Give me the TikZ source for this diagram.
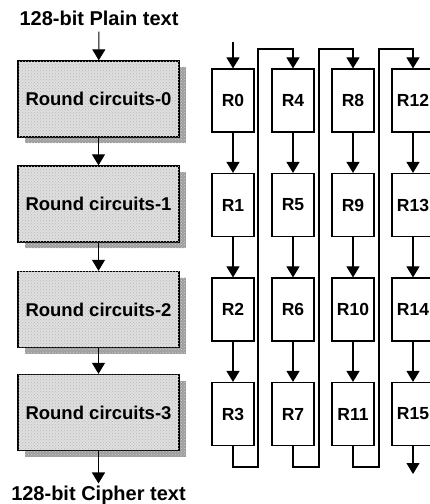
\documentclass[tikz,border=0pt]{standalone}
\usepackage{fontspec}
\setmainfont{Liberation Sans}
\usetikzlibrary{arrows.meta,patterns}
\tikzset{
  roundbox/.style={draw,line width=1.3pt,fill=gray!25,postaction={pattern=crosshatch dots,pattern color=gray!55},
    minimum width=161pt,minimum height=76pt,inner sep=0pt,
    font=\fontsize{18.5}{21}\selectfont\bfseries},
  boxshadow/.style={fill=gray!75,postaction={pattern=crosshatch dots,pattern color=white!60!gray},
    minimum width=161pt,minimum height=76pt,inner sep=0pt},
  regbox/.style={draw,line width=1.2pt,fill=white,minimum width=42pt,minimum height=63pt,inner sep=0pt,
    font=\fontsize{17.5}{20}\selectfont\bfseries},
  caption/.style={font=\fontsize{20}{22}\selectfont\bfseries,inner sep=2pt},
  flow/.style={line width=1.1pt,-{Triangle[width=13pt,length=11pt]}},
}
\begin{document}
\begin{tikzpicture}[x=1pt,y=-1pt]
\clip (0,0) rectangle (430,504);
% left: round circuits
\node[boxshadow] (sh0) at (105,105) {};
\node[boxshadow] (sh1) at (105,210) {};
\node[boxshadow] (sh2) at (105,315.5) {};
\node[boxshadow] (sh3) at (105,418.5) {};
\node[caption] (plain) at (99,18) {128-bit Plain text};
\node[roundbox] (rc0) at (98.5,99) {Round circuits-0};
\node[roundbox] (rc1) at (98.5,204) {Round circuits-1};
\node[roundbox] (rc2) at (98.5,309.5) {Round circuits-2};
\node[roundbox] (rc3) at (98.5,412.5) {Round circuits-3};
\node[caption] (cipher) at (98.5,495) {128-bit Cipher text};
\draw[flow,shorten <=4pt] (plain) -- (rc0);
\draw[flow] (rc0) -- (rc1);
\draw[flow] (rc1) -- (rc2);
\draw[flow] (rc2) -- (rc3);
\draw[flow] (rc3) -- (cipher);
% right: registers
\node[regbox] (r0) at (233,100.5) {R0};
\node[regbox] (r1) at (233,205) {R1};
\node[regbox] (r2) at (233,309.5) {R2};
\node[regbox] (r3) at (233,414) {R3};
\node[regbox] (r4) at (293,100.5) {R4};
\node[regbox] (r5) at (293,205) {R5};
\node[regbox] (r6) at (293,309.5) {R6};
\node[regbox] (r7) at (293,414) {R7};
\node[regbox] (r8) at (353,100.5) {R8};
\node[regbox] (r9) at (353,205) {R9};
\node[regbox] (r10) at (353,309.5) {R10};
\node[regbox] (r11) at (353,414) {R11};
\node[regbox] (r12) at (413,100.5) {R12};
\node[regbox] (r13) at (413,205) {R13};
\node[regbox] (r14) at (413,309.5) {R14};
\node[regbox] (r15) at (413,414) {R15};
\coordinate (in0) at (233,42);
\coordinate (out15) at (413,474);
\coordinate (loopa) at (258,467);
\coordinate (loopb) at (319,467);
\coordinate (loopc) at (379,467);
\coordinate (topa) at (258,49);
\coordinate (topb) at (319,49);
\coordinate (topc) at (379,49);
\draw[flow] (in0) -- (r0);
\draw[flow] (r0) -- (r1);
\draw[flow] (r1) -- (r2);
\draw[flow] (r2) -- (r3);
\draw[flow] (r3.south) |- (loopa) -- (topa) -| (r4.north);
\draw[flow] (r4) -- (r5);
\draw[flow] (r5) -- (r6);
\draw[flow] (r6) -- (r7);
\draw[flow] (r7.south) |- (loopb) -- (topb) -| (r8.north);
\draw[flow] (r8) -- (r9);
\draw[flow] (r9) -- (r10);
\draw[flow] (r10) -- (r11);
\draw[flow] (r11.south) |- (loopc) -- (topc) -| (r12.north);
\draw[flow] (r12) -- (r13);
\draw[flow] (r13) -- (r14);
\draw[flow] (r14) -- (r15);
\draw[flow] (r15) -- (out15);
\end{tikzpicture}
\end{document}
